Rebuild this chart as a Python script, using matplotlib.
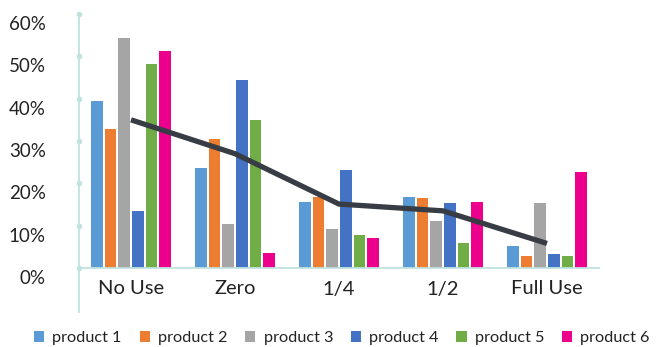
import matplotlib
matplotlib.use("Agg")
import matplotlib.pyplot as plt
import matplotlib.transforms as mtransforms
from matplotlib.lines import Line2D
import numpy as np

plt.rcParams['font.family'] = ['Lato', 'DejaVu Sans']

categories = ["No Use", "Zero", "1/4", "1/2", "Full Use"]
products = ["product 1", "product 2", "product 3", "product 4", "product 5", "product 6"]
product_1 = [39.4, 23.6, 15.6, 16.8, 5.2]
product_2 = [32.8, 30.5, 16.8, 16.5, 2.8]
product_3 = [54.3, 10.4, 9.2, 11.1, 15.4]
product_4 = [13.5, 44.4, 23.1, 15.4, 3.3]
product_5 = [48.2, 35.0, 7.8, 5.9, 2.8]
product_6 = [51.3, 3.5, 7.1, 15.6, 22.7]
overall = [35.0, 27.0, 15.1, 13.5, 5.8]
yticks = [0, 10, 20, 30, 40, 50, 60]

series = [product_1, product_2, product_3, product_4, product_5, product_6]
colors = ["#5B9BD5", "#ED7D31", "#A5A5A5", "#4472C4", "#70AD47", "#EC008C"]
axis_color = "#BFE3DF"
text_color = "#222222"

fig = plt.figure(figsize=(6.6, 3.47), dpi=100)
ax = fig.add_axes([79 / 660, 1 - 268 / 347, 520 / 660, 254 / 347])

x = np.arange(len(categories))
slot = 0.79 / 6
bw = slot * 0.86
for i, (vals, c, name) in enumerate(zip(series, colors, products)):
    ax.bar(x + (i - 2.5) * slot, [v / 100 for v in vals], width=bw, color=c, label=name, zorder=2)

ax.plot(x, [v / 100 for v in overall], color="#383C45", lw=3.8, solid_capstyle="butt", zorder=3)

ax.set_xlim(-0.5, len(categories) - 0.5)
ax.set_ylim(0, 0.6)
ax.set_yticks([t / 100 for t in yticks])
ax.set_yticklabels([f"{t}%" for t in yticks])
ax.set_xticks(x)
ax.set_xticklabels(categories)

for s in ["top", "right", "left"]:
    ax.spines[s].set_visible(False)
ax.spines["bottom"].set_color(axis_color)
ax.spines["bottom"].set_linewidth(1.3)

# vertical axis line extending below the plot, with dots at each tick
ax.add_line(Line2D([0, 0], [1, -0.175], transform=ax.transAxes, color=axis_color,
                   lw=1.3, clip_on=False, zorder=1))
ax.plot([0] * len(yticks), [t / 100 for t in yticks], transform=ax.get_yaxis_transform(),
        ls="none", marker="o", ms=3, color=axis_color, clip_on=False, zorder=1)

ax.tick_params(axis="both", length=0, colors=text_color)
ax.tick_params(axis="y", pad=24, labelsize=13.5)
ax.tick_params(axis="x", pad=9, labelsize=14.5)
offset = mtransforms.ScaledTranslation(0, -9 / 100, fig.dpi_scale_trans)
for lab in ax.get_yticklabels():
    lab.set_transform(lab.get_transform() + offset)

leg = fig.legend(loc="center", bbox_to_anchor=(342 / 660, 1 - 338 / 347), ncol=6, frameon=False,
                 fontsize=11.7, handlelength=0.62, handleheight=0.62, handletextpad=0.5,
                 columnspacing=1.1, labelcolor=text_color)

fig.savefig("out.png", dpi=100)
